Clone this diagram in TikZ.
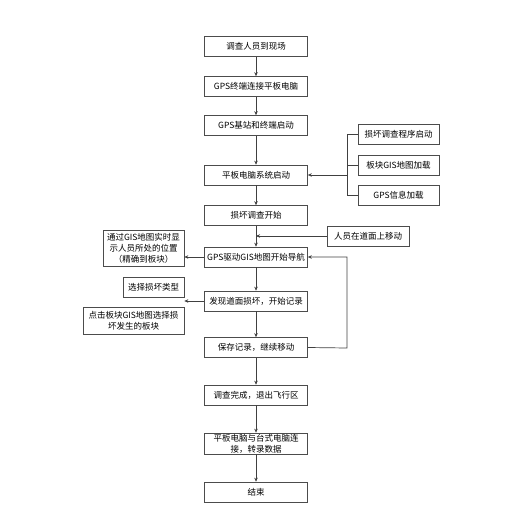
\documentclass[tikz,border=0pt]{standalone}
\usepackage{fontspec}
\usetikzlibrary{arrows.meta}
\newfontfamily\cjk{Noto Sans CJK SC}
\begin{document}
\begin{tikzpicture}[x=1pt,y=-1pt,font=\cjk\fontsize{8.5}{11}\selectfont,
    blk/.style={draw=black!70,line width=0.6pt,inner sep=1pt,align=center,minimum width=103pt,minimum height=20pt},
    sidebox/.style={draw=black!70,line width=0.6pt,inner sep=1pt,align=center,minimum height=20pt},
    link/.style={draw=black!75,line width=0.7pt,->,>={Stealth[length=4pt,width=3.5pt]}}]
  \useasboundingbox (0,0) rectangle (516,518);
  % main column
  \node[blk] (arrive) at (256,46.5) {调查人员到现场};
  \node[blk] (connect) at (256,86.5) {GPS终端连接平板电脑};
  \node[blk] (base) at (256,125.5) {GPS基站和终端启动};
  \node[blk] (tablet) at (256,175) {平板电脑系统启动};
  \node[blk] (begin) at (256,215.5) {损坏调查开始};
  \node[blk] (navi) at (256,257) {GPS驱动GIS地图开始导航};
  \node[blk] (found) at (256,301) {发现道面损坏，开始记录};
  \node[blk] (save) at (256,347.5) {保存记录，继续移动};
  \node[blk] (done) at (256,395) {调查完成，退出飞行区};
  \node[blk,minimum height=21pt] (copy) at (256,443.5) {平板电脑与台式电脑连\\接，转录数据};
  \node[blk] (finish) at (256,492) {结束};
  % right side
  \node[sidebox,minimum width=81pt] (prog) at (398.5,134) {损坏调查程序启动};
  \node[sidebox,minimum width=81pt] (mapload) at (398.5,165) {板块GIS地图加载};
  \node[sidebox,minimum width=81pt] (gpsload) at (398.5,195.5) {GPS信息加载};
  \node[sidebox,minimum width=82pt] (walk) at (368,236) {人员在道面上移动};
  % left side
  \node[sidebox,minimum width=81pt,minimum height=36pt] (show) at (143.5,248) {通过GIS地图实时显\\示人员所处的位置\\（精确到板块）};
  \node[sidebox,minimum width=61pt] (kind) at (153.5,287) {选择损坏类型};
  \node[sidebox,minimum width=101pt,minimum height=27pt] (pick) at (133.5,320.5) {点击板块GIS地图选择损\\坏发生的板块};
  \coordinate (brk) at (347,175);
  \coordinate (back) at (347,348);
  % connectors
  \foreach \a/\b in {arrive/connect,connect/base,base/tablet,tablet/begin,begin/navi,navi/found,found/save,save/done,done/copy,copy/finish}
    \draw[link] (\a) -- (\b);
  \draw[draw=black!75,line width=0.7pt] (prog.west) -- (prog.west -| brk) -- (gpsload.west -| brk) -- (gpsload.west);
  \draw[draw=black!75,line width=0.7pt] (mapload.west) -- (mapload.west -| brk);
  \draw[link] (brk) -- (tablet.east);
  \draw[link] (walk.west) -- (walk.west -| begin.south);
  \draw[link] (navi.west) -- (navi.west -| show.east);
  \draw[link] (found.west) -- (found.west -| kind.east);
  \draw[link] (save.east) -- (back) -- (navi.east -| back) -- (navi.east);
\end{tikzpicture}
\end{document}
